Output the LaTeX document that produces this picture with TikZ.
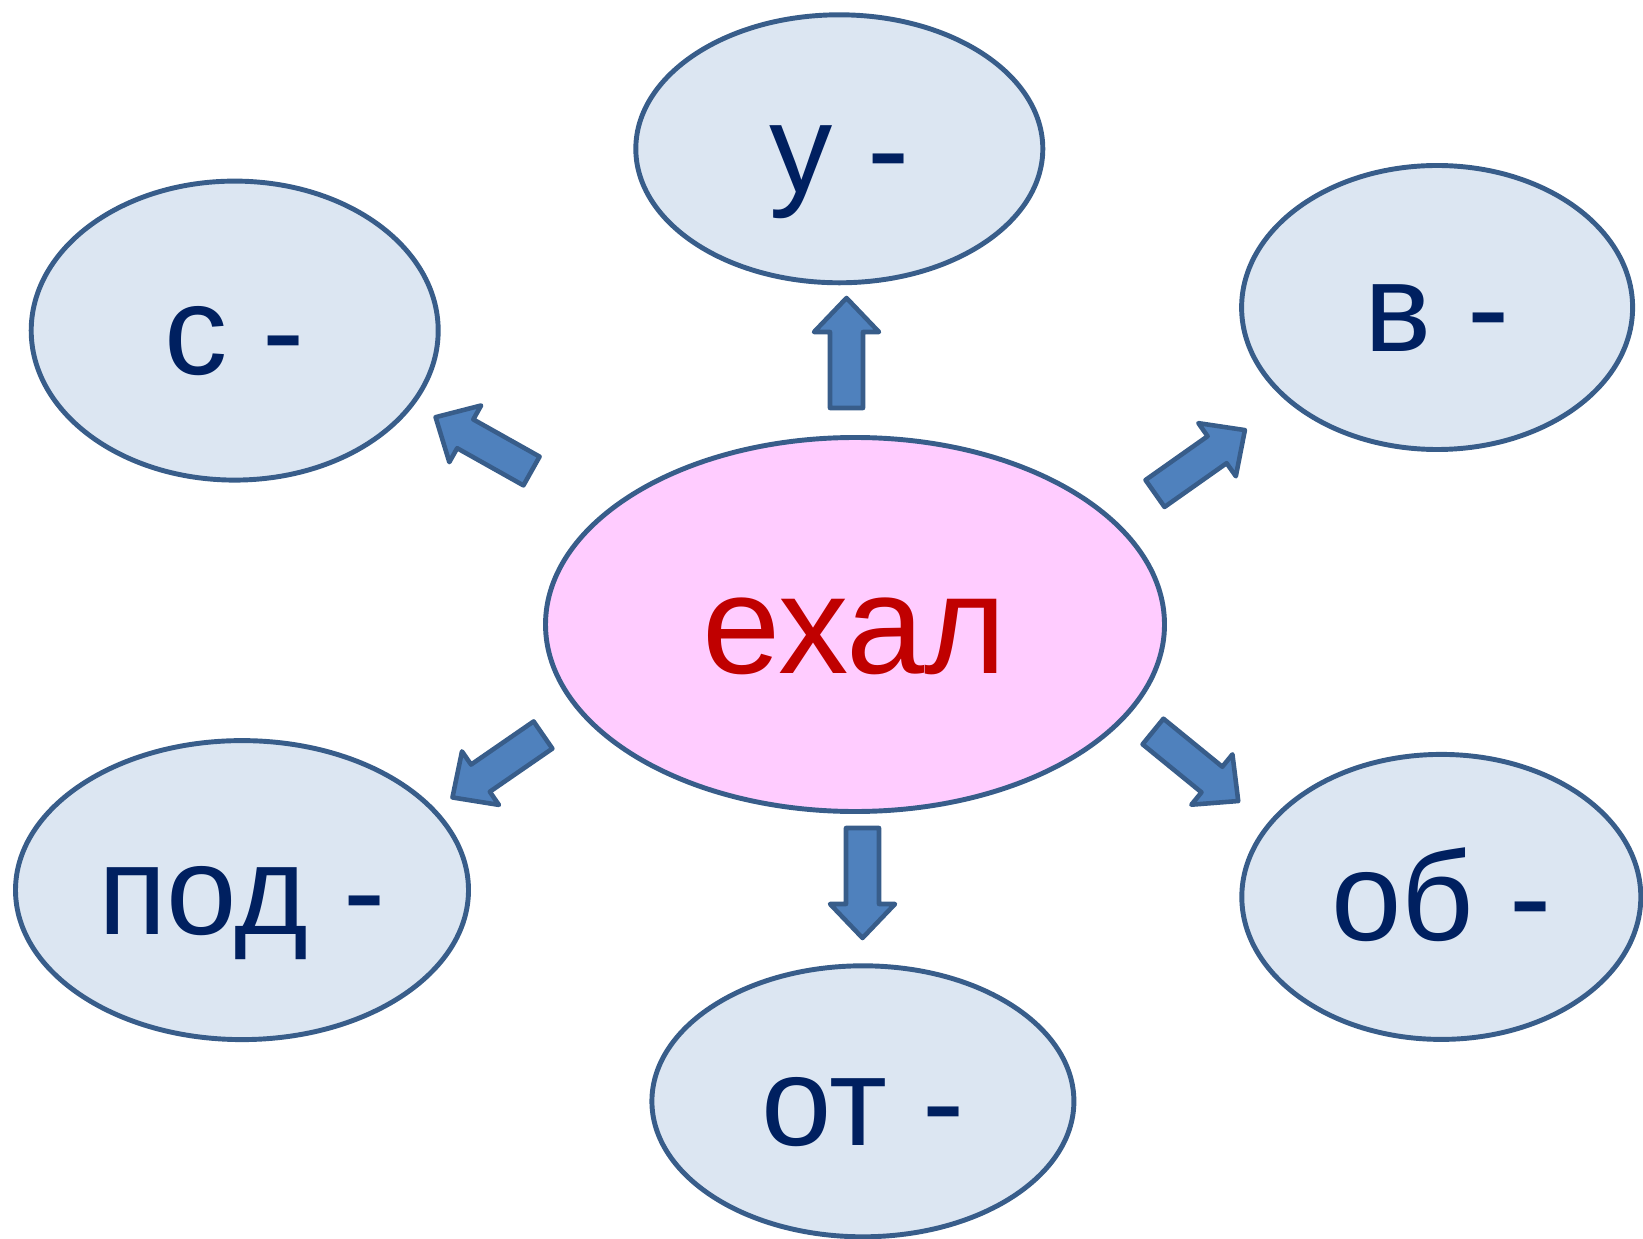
\documentclass[tikz,border=0pt]{standalone}
\usepackage{fontspec}
\setmainfont{Liberation Sans}
\usetikzlibrary{shapes.geometric}

\definecolor{rimblue}{HTML}{385D8A}
\definecolor{paleblue}{HTML}{DCE6F2}
\definecolor{arrowblue}{HTML}{4F81BD}
\definecolor{pinkfill}{HTML}{FFCCFF}
\definecolor{navytext}{HTML}{002060}
\definecolor{redtext}{HTML}{C00000}

\tikzset{
  prefixbox/.style={ellipse, draw=rimblue, line width=1.4pt, fill=paleblue,
    inner sep=0pt, text=navytext, font=\fontsize{36}{40}\selectfont,
    text height=32.6pt, text depth=7.6pt},
  rootword/.style={prefixbox, fill=pinkfill, text=redtext,
    font=\fontsize{40}{44}\selectfont, text height=36.2pt, text depth=8.5pt},
  blockarrow/.pic={
    \draw[draw=rimblue, line width=1.3pt, fill=arrowblue, line join=round]
      (-0.165,0) -- (-0.165,0.76) -- (-0.325,0.76) -- (0,1.1)
      -- (0.325,0.76) -- (0.165,0.76) -- (0.165,0) -- cycle;
  }
}

\begin{document}
\begin{tikzpicture}
  \useasboundingbox (0,0) rectangle (16.43,-12.39);
  % root word and prefixes
  \node[rootword, minimum width=6.19cm, minimum height=3.74cm] (root) at (8.55,-6.245) {ехал};
  \node[prefixbox, minimum width=4.07cm, minimum height=2.68cm] (u) at (8.393,-1.488) {у -};
  \node[prefixbox, minimum width=4.07cm, minimum height=2.99cm] (s) at (2.347,-3.306) {с -};
  \node[prefixbox, minimum width=3.91cm, minimum height=2.84cm] (v) at (14.371,-3.075) {в -};
  \node[prefixbox, minimum width=4.53cm, minimum height=2.99cm] (pod) at (2.420,-8.901) {под -};
  \node[prefixbox, minimum width=4.22cm, minimum height=2.71cm] (ot) at (8.629,-11.013) {от -};
  \node[prefixbox, minimum width=3.99cm, minimum height=2.85cm] (ob) at (14.413,-8.969) {об -};
  % block arrows
  \pic at (8.465,-4.08) {blockarrow};
  \pic[rotate=60.7] at (5.315,-4.71) {blockarrow};
  \pic[rotate=-54.8] at (11.55,-4.935) {blockarrow};
  \pic[rotate=124.6] at (5.43,-7.35) {blockarrow};
  \pic[rotate=180] at (8.625,-8.28) {blockarrow};
  \pic[rotate=-129.2] at (11.53,-7.315) {blockarrow};
\end{tikzpicture}
\end{document}
